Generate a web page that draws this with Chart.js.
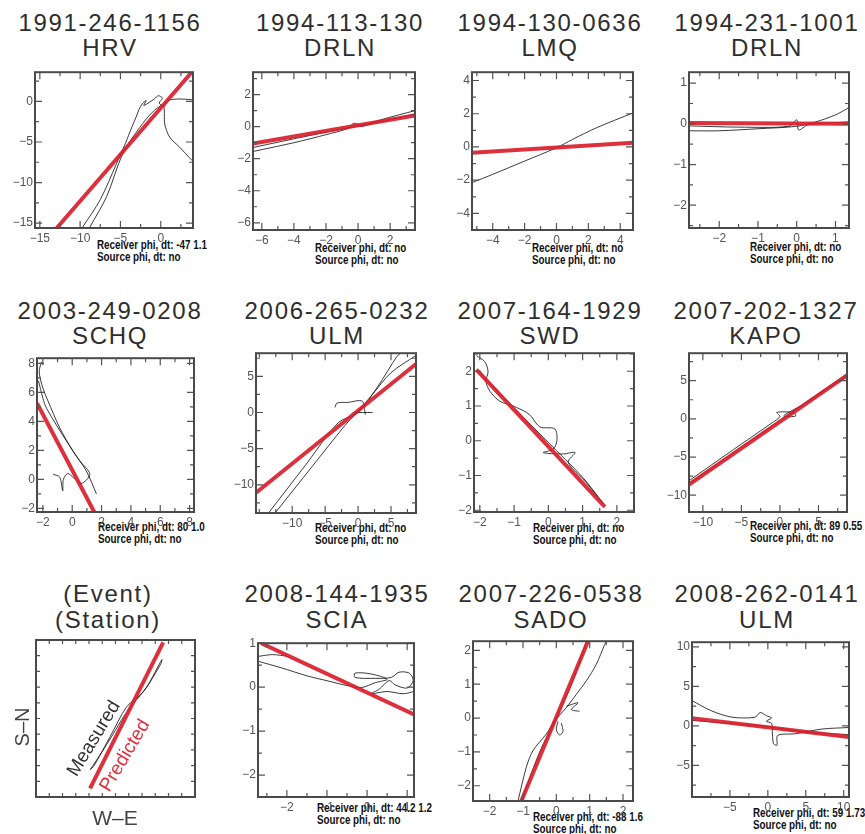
<!DOCTYPE html>
<html><head><meta charset="utf-8">
<script src="https://cdn.jsdelivr.net/npm/chart.js@4"></script>
<style>
body{margin:0;background:#fff;width:865px;height:834px;position:relative;overflow:hidden;font-family:'Liberation Sans',Arial,sans-serif}
.t{position:absolute;width:240px;text-align:center;color:#2e2e2e;font-size:24px;letter-spacing:1.7px;white-space:nowrap}
.a{position:absolute;font-weight:bold;font-size:12px;line-height:12px;color:#111;transform:scaleX(0.82);transform-origin:0 0;white-space:nowrap}
.r{position:absolute;white-space:nowrap;line-height:1}
canvas{position:absolute}
</style></head><body>
<script>
// ---------- DATA ----------
const eventIds = ["1991-246-1156","1994-113-130","1994-130-0636","1994-231-1001","2003-249-0208","2006-265-0232","2007-164-1929","2007-202-1327","(Event)","2008-144-1935","2007-226-0538","2008-262-0141"];
const stationCodes = ["HRV","DRLN","LMQ","DRLN","SCHQ","ULM","SWD","KAPO","(Station)","SCIA","SADO","ULM"];
const receiverNotes = ["Receiver phi, dt: -47 1.1","Receiver phi, dt: no","Receiver phi, dt: no","Receiver phi, dt: no","Receiver phi, dt: 80 1.0","Receiver phi, dt: no","Receiver phi, dt: no","Receiver phi, dt: 89 0.55","","Receiver phi, dt: 44.2 1.2","Receiver phi, dt: -88 1.6","Receiver phi, dt: 59 1.73"];
const sourceNotes = ["Source phi, dt: no","Source phi, dt: no","Source phi, dt: no","Source phi, dt: no","Source phi, dt: no","Source phi, dt: no","Source phi, dt: no","Source phi, dt: no","","Source phi, dt: no","Source phi, dt: no","Source phi, dt: no"];

const xRanges = [[-15.6,4.0],[-6.55,3.55],[-5.3,4.8],[-2.78,1.35],[-2.4,8.3],[-15.5,8.8],[-2.17,2.5],[-11.8,8.7],[0,12],[-2.72,1.17],[-2.5,2.3],[-10,10.7]];
const yRanges = [[-15.6,3.6],[-6.45,3.4],[-5.0,4.5],[-2.56,1.27],[-2.25,8.35],[-13.9,8.2],[-2.05,2.52],[-12.2,8.6],[0,10],[-2.5,1.0],[-2.45,2.27],[-9,10.6]];
const xTickLabels = [[-15,-10,-5,0],[-6,-4,-2,0,2],[-4,-2,0,2,4],[-2,-1,0,1],[-2,0,2,4,6,8],[-10,-5,0,5],[-2,-1,0,1,2],[-10,-5,0,5],[],[-2,-1,0,1],[-2,-1,0,1,2],[-5,0,5,10]];
const yTickLabels = [[-15,-10,-5,0],[-6,-4,-2,0,2],[-4,-2,0,2,4],[-2,-1,0,1],[-2,0,2,4,6,8],[-10,-5,0,5],[-2,-1,0,1,2],[-10,-5,0,5],[],[-2,-1,0,1],[-2,-1,0,1,2],[-5,0,5,10]];
const minorSteps = [2.5,1,1,0.5,1,2.5,0.5,2.5,1,0.5,0.5,2.5];

// predicted (red) polarization lines
const pred1 = [[-12.9,-15.6],[3.85,3.6]];
const pred2 = [[-6.55,-1.06],[3.55,0.7]];
const pred3 = [[-5.3,-0.35],[4.8,0.25]];
const pred4 = [[-2.78,0.02],[1.35,0.0]];
const pred5 = [[-2.4,5.25],[1.5,-2.25]];
const pred6 = [[-15.5,-11.1],[8.8,6.7]];
const pred7 = [[-2.1,2.05],[1.65,-1.9]];
const pred8 = [[-11.8,-8.6],[8.7,5.7]];
const pred9 = [[4.08,0.55],[9.6,9.85]];
const pred10 = [[-2.64,1.0],[1.17,-0.62]];
const pred11 = [[-1.05,-2.45],[0.95,2.27]];
const pred12 = [[-10,0.97],[10.7,-1.4]];

// measured particle motion (black)
const meas1a = [[-9.7,-15.5],[-7.5,-12.1],[-5.5,-7.7],[-4.4,-5.2],[-3.6,-3.2],[-3.0,-1.8],[-2.7,-1.0],[-2.3,-0.3],[-1.8,0.1],[-2.1,-0.5],[-1.4,-0.1],[-0.8,0.3],[-0.3,0.7],[0.2,0.4],[-0.2,-0.2],[0.4,-0.6],[0.9,0.1],[2.3,0.3],[3.9,0.2]];
const meas1b = [[-8.8,-15.5],[-6.7,-11.7],[-4.7,-6.4],[-2.6,-3.2],[-0.9,-1.2],[0.3,-0.5],[0.5,-2.8],[1.1,-4.4],[2.3,-5.6],[3.9,-7.3]];
const meas2a = [[-6.55,-1.55],[-4,-1.0],[-2,-0.5],[-0.6,-0.1],[-0.3,0.2],[0,0.15],[0.2,0.0],[1.5,0.45],[3.55,1.0]];
const meas2b = [[-6.55,-1.3],[-3,-0.55],[0,0.05],[2,0.45],[3.55,0.8]];
const meas3 = [[-5.3,-2.15],[-4,-1.65],[-2,-0.85],[0,-0.05],[1,0.45],[2.5,1.15],[4.8,2.05]];
const meas4a = [[-2.78,-0.17],[-2,-0.17],[-1,-0.12],[0,-0.06],[0.5,0.05],[1.0,0.22],[1.35,0.4]];
const meas4b = [[-2.78,-0.05],[-1.5,-0.08],[-0.2,-0.06],[0,0.1],[0.05,-0.15],[0.3,-0.02],[1.35,0.05]];
const meas5a = [[-2.1,8.1],[-2.25,7.4],[-2.0,6.3],[-1.65,5.4],[-0.85,3.55],[0.05,1.95],[0.95,0.6],[1.65,-1.0]];
const meas5b = [[-2.3,6.8],[-2.0,5.6],[-1.75,4.9],[-0.4,2.65],[0.5,1.3],[1.2,0.35],[0.6,-0.3],[0.1,0.1],[-0.3,0.4],[-0.6,0.0],[-0.65,-0.8],[-0.85,0.15],[-1.3,0.35]];
const meas6a = [[-13.6,-13.9],[-8,-7.3],[-3,-1.4],[0,0.0],[3,3.6],[5.9,7.75],[6.5,8.2]];
const meas6b = [[-12.6,-13.9],[-7,-7.5],[-2,-1.8],[0,0.2],[2,2.3],[5,5.5],[8.8,7.9]];
const meas6c = [[-3.5,0.7],[-3.2,1.3],[-1.5,1.4],[0.6,1.6],[1.0,0.4],[1.1,-0.3]];
const meas6d = [[-0.8,0.0],[2.2,0.0]];
const meas7a = [[-2.1,2.45],[-1.86,2.28],[-1.76,2.0],[-1.82,1.7],[-1.7,1.42],[-1.42,1.14],[-1.03,1.0],[-0.64,0.82],[-0.5,0.7],[-0.25,0.4],[0.19,0.34],[0.25,0.0],[0.14,-0.24],[-0.15,-0.34],[0.43,-0.38],[0.78,-0.34],[0.58,-0.62],[1.1,-1.2],[1.6,-1.8]];
const meas7b = [[-2.05,2.0],[-1.0,0.95],[0,-0.05],[1.0,-1.05],[1.6,-1.8]];
const meas8a = [[-11.8,-8.1],[-6,-4.0],[-1,-0.5],[0,0.3],[-0.4,0.85],[1.9,0.8],[2.0,0.35],[0.5,0.4],[3,1.9],[8.7,5.9]];
const meas8b = [[-11.8,-8.5],[0,-0.2],[8.7,5.6]];
const meas9 = [[4.1,1.75],[5.0,2.9],[5.85,4.05],[6.6,5.1],[7.35,5.95],[8.35,7.0],[9.5,8.75],[9.4,8.45],[8.1,6.7],[6.85,5.75],[5.6,3.85],[4.35,1.95],[4.1,1.75]];
const meas10a = [[-2.72,0.7],[-2.35,0.74],[-1.97,0.7]];
const meas10b = [[-2.72,0.59],[-2.14,0.44],[-1.47,0.25],[-0.97,0.14],[-0.47,0.03],[-0.14,-0.01],[0.2,0.1],[0.5,0.18],[0.1,0.3],[-0.3,0.32],[-0.3,0.22],[0.2,0.2],[0.6,0.22],[0.8,0.34],[1.05,0.32],[1.15,0.15],[1.0,-0.02],[0.7,0.05],[0.55,0.15],[0.3,-0.05],[0.1,-0.15],[0.5,-0.1],[0.9,-0.15],[1.17,-0.1]];
const meas11a = [[-1.15,-2.45],[-0.9,-1.45],[-0.7,-0.96],[-0.3,-0.47],[-0.05,-0.08],[0.3,0.31],[0.6,0.7],[0.9,1.1],[1.2,1.59],[1.45,2.17],[1.5,2.27]];
const meas11b = [[-1.05,-2.45],[-0.5,-1.0],[0,0.0],[0.5,1.1],[0.9,2.27]];
const meas11c = [[0.3,0.35],[0.65,0.45],[0.45,0.25],[0.7,0.2]];
const meas11d = [[0.05,-0.1],[0.0,-0.35],[0.1,-0.5],[0.2,-0.4],[0.15,-0.15]];
const meas12a = [[-10,3.2],[-7.4,1.9],[-4.7,1.1],[-1.7,1.1],[-1.0,1.7],[-0.2,1.3],[0.5,1.0],[-0.2,0.6],[0.5,0.3],[0.6,-1.0],[0.75,-2.25],[1.2,-2.45],[1.3,-1.2],[3.6,-1.0],[7.1,-0.4],[10.7,-0.2]];
const meas12b = [[-10,0.7],[-5,0.3],[0,-0.1],[5,-0.8],[10.7,-1.1]];

const predictedLines = [pred1,pred2,pred3,pred4,pred5,pred6,pred7,pred8,pred9,pred10,pred11,pred12];
const measuredCurves = [[meas1a,meas1b],[meas2a,meas2b],[meas3],[meas4a,meas4b],[meas5a,meas5b],[meas6a,meas6b,meas6c,meas6d],[meas7a,meas7b],[meas8a,meas8b],[meas9],[meas10a,meas10b],[meas11a,meas11b,meas11c,meas11d],[meas12a,meas12b]];

// ---------- LAYOUT ----------
const boxes = [[35,71,193,228],[253,71,415,230],[472,71,633,230],[689,71,849,228],[37,357,194,512],[256,352,416,513],[474,352,634,512],[689,352,847,512],[36,640,195,797],[258,642,414,797],[473,640,633,801],[692,641,849,797]];
const titleCx = [110,340,550,767,110,337,550,766,108,337,551,767];
const titleTop = [10,10,10,10,298,298,298,298,581,581,581,581];
const titleLH = [25,25,25,25,25,25,25,25,26,26,26,26];
const notePos = [[97,239],[315,242],[532,242],[750,241],[98,521],[315,522],[533,522],[750,520],null,[317,802],[533,811],[753,807]];

const fmt = v => { const r = Math.round(v*100)/100; return (r < 0 ? '\u2212' : '') + Math.abs(r); };

const frameTicks = {
  id: 'frameTicks',
  afterDatasetsDraw(chart, args, opts) {
    const {ctx, chartArea: a} = chart;
    const sx = chart.scales.x, sy = chart.scales.y;
    ctx.save();
    ctx.strokeStyle = '#555';
    ctx.lineWidth = 1.2;
    const drawAxis = (scale, majors, horiz) => {
      const m = opts.minor;
      const k0 = Math.ceil(scale.min / m - 1e-9), k1 = Math.floor(scale.max / m + 1e-9);
      for (let k = k0; k <= k1; k++) {
        const v = k * m;
        const isMajor = majors.some(t => Math.abs(t - v) < 1e-6);
        const len = isMajor ? 7 : 4;
        const p = scale.getPixelForValue(v);
        ctx.beginPath();
        if (horiz) { ctx.moveTo(p, a.bottom); ctx.lineTo(p, a.bottom - len); ctx.moveTo(p, a.top); ctx.lineTo(p, a.top + len); }
        else { ctx.moveTo(a.left, p); ctx.lineTo(a.left + len, p); ctx.moveTo(a.right, p); ctx.lineTo(a.right - len, p); }
        ctx.stroke();
      }
    };
    drawAxis(sx, opts.xMajors, true);
    drawAxis(sy, opts.yMajors, false);
    ctx.lineWidth = 2;
    ctx.strokeStyle = '#4a4a4a';
    ctx.strokeRect(a.left, a.top, a.width, a.height);
    ctx.restore();
  }
};

const PADL = 34, PADT = 8, PADR = 12, PADB = 24;
const tickFont = {family: "'Liberation Sans Narrow','Liberation Sans',Arial,sans-serif", size: 12};

function addDiv(cls, html, style) {
  const d = document.createElement('div');
  d.className = cls; d.innerHTML = html;
  Object.assign(d.style, style);
  document.body.appendChild(d);
  return d;
}

for (let i = 0; i < 12; i++) {
  const b = boxes[i];
  addDiv('t', eventIds[i] + '<br>' + stationCodes[i], {left: (titleCx[i]-120)+'px', top: titleTop[i]+'px', lineHeight: titleLH[i]+'px'});
  if (notePos[i]) addDiv('a', receiverNotes[i] + '<br>' + sourceNotes[i], {left: notePos[i][0]+'px', top: notePos[i][1]+'px'});

  const c = document.createElement('canvas');
  const w = b[2]-b[0] + PADL + PADR, h = b[3]-b[1] + PADT + PADB;
  c.width = w; c.height = h;
  c.style.left = (b[0]-PADL)+'px'; c.style.top = (b[1]-PADT)+'px';
  c.style.width = w+'px'; c.style.height = h+'px';
  document.body.appendChild(c);

  const datasets = [{
    data: predictedLines[i].map(p => ({x:p[0], y:p[1]})),
    showLine: true, pointRadius: 0, borderColor: 'rgba(218,30,44,0.92)', borderWidth: 4, order: 0, clip: 0
  }];
  measuredCurves[i].forEach(cv => datasets.push({
    data: cv.map(p => ({x:p[0], y:p[1]})),
    showLine: true, pointRadius: 0, borderColor: 'rgba(25,25,25,0.85)', borderWidth: 1, tension: 0.3, order: 1, clip: 0
  }));

  const xt = xTickLabels[i], yt = yTickLabels[i];
  new Chart(c, {
    type: 'scatter',
    data: {datasets},
    options: {
      responsive: false, animation: false, devicePixelRatio: 1,
      layout: {padding: {left: 0, top: PADT, right: PADR, bottom: 0}},
      plugins: {legend: {display: false}, tooltip: {enabled: false},
        frameTicks: {minor: minorSteps[i], xMajors: xt, yMajors: yt}},
      scales: {
        x: {type: 'linear', min: xRanges[i][0], max: xRanges[i][1],
          afterBuildTicks: s => { s.ticks = xt.map(v => ({value: v})); },
          afterFit: s => { s.height = PADB; },
          grid: {display: false, drawTicks: false}, border: {display: false},
          ticks: {display: xt.length > 0, padding: 3, color: '#555', font: tickFont, maxRotation: 0, autoSkip: false, callback: fmt}},
        y: {type: 'linear', min: yRanges[i][0], max: yRanges[i][1],
          afterBuildTicks: s => { s.ticks = yt.map(v => ({value: v})); },
          afterFit: s => { s.width = PADL; },
          grid: {display: false, drawTicks: false}, border: {display: false},
          ticks: {display: yt.length > 0, padding: 2, color: '#555', font: tickFont, autoSkip: false, callback: fmt}}
      }
    },
    plugins: [frameTicks]
  });
}

// legend panel labels
addDiv('r', 'Measured', {left:'93px', top:'738px', fontSize:'19px', color:'#333', transform:'translate(-50%,-50%) rotate(-58.7deg)'});
addDiv('r', 'Predicted', {left:'124px', top:'755px', fontSize:'19px', color:'#e0303c', transform:'translate(-50%,-50%) rotate(-59deg)'});
addDiv('r', 'S\u2013N', {left:'22px', top:'727px', fontSize:'20px', color:'#444', transform:'translate(-50%,-50%) rotate(-90deg)'});
addDiv('r', 'W\u2013E', {left:'115px', top:'817px', fontSize:'21px', color:'#444', transform:'translate(-50%,-50%)'});
</script>
</body></html>
